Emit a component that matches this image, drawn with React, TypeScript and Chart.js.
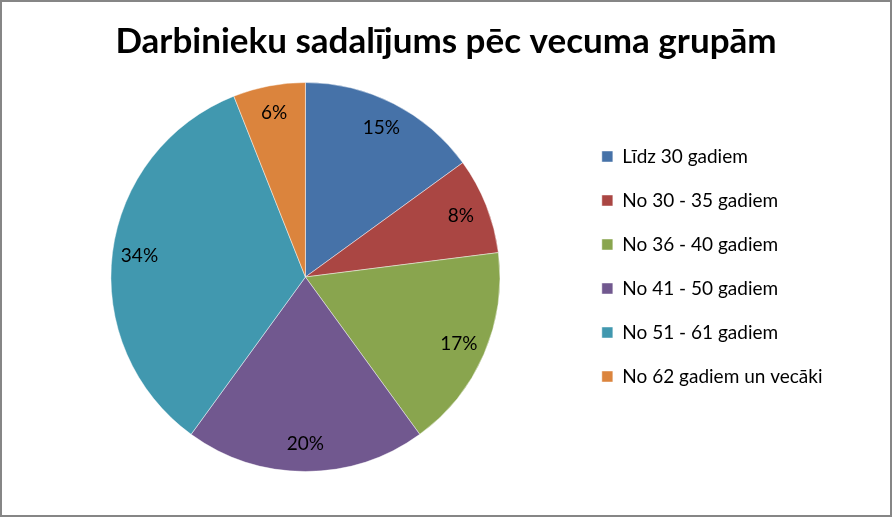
import React, { useRef, useEffect } from 'react';
import { Chart, registerables } from 'chart.js';

Chart.register(...registerables);

const chartTitle = 'Darbinieku sadalījums pēc vecuma grupām';
const ageGroups = [
    'Līdz 30 gadiem',
    'No 30 - 35 gadiem',
    'No 36 - 40 gadiem',
    'No 41 - 50 gadiem',
    'No 51 - 61 gadiem',
    'No 62 gadiem un vecāki',
];
const sharePercent = [15, 8, 17, 20, 34, 6];
const sliceColors = ['#4672A8', '#AA4643', '#89A54E', '#71588F', '#4198AF', '#DB843D'];

const FONT = 'Lato, "Open Sans", sans-serif';

// draws "15%" style labels inside each slice, near the outer edge
const sliceLabels = {
    id: 'sliceLabels',
    afterDatasetsDraw(chart: any) {
        const ctx = chart.ctx;
        const meta = chart.getDatasetMeta(0);
        ctx.save();
        ctx.font = `19px ${FONT}`;
        ctx.fillStyle = '#000';
        ctx.textAlign = 'center';
        ctx.textBaseline = 'middle';
        meta.data.forEach((arc: any, i: number) => {
            const { x, y, startAngle, endAngle, outerRadius } = arc.getProps(
                ['x', 'y', 'startAngle', 'endAngle', 'outerRadius'], true);
            const mid = (startAngle + endAngle) / 2;
            const r = outerRadius * 0.86;
            ctx.fillText(`${sharePercent[i]}%`, x + Math.cos(mid) * r, y + Math.sin(mid) * r);
        });
        ctx.restore();
    },
};

// centre the title over the whole canvas, not just the padded area
const titleFullWidth = {
    id: 'titleFullWidth',
    afterLayout(chart: any) {
        const t = chart.titleBlock;
        if (t) {
            t.left = 0;
            t.right = chart.width;
            t.width = chart.width;
        }
    },
};

const App: React.FC = () => {
    const chartRef = useRef<HTMLCanvasElement>(null);
    const chartInstanceRef = useRef<Chart | null>(null);

    useEffect(() => {
        if (chartRef.current) {
            const ctx = chartRef.current.getContext('2d');
            if (ctx) {
                if (chartInstanceRef.current) {
                    chartInstanceRef.current.destroy();
                }
                chartInstanceRef.current = new Chart(ctx, {
                    type: 'pie',
                    data: {
                        labels: ageGroups,
                        datasets: [{
                            data: sharePercent,
                            backgroundColor: sliceColors,
                            borderColor: 'rgba(255,255,255,0.45)',
                            borderWidth: 1,
                        }],
                    },
                    options: {
                        responsive: false,
                        animation: false,
                        layout: {
                            padding: { left: 32, right: 57.5, top: 0, bottom: 43 },
                        },
                        plugins: {
                            title: {
                                display: true,
                                text: chartTitle,
                                color: '#000',
                                font: { family: FONT, size: 35, weight: 'bold' },
                                padding: { top: 19, bottom: 19 },
                            },
                            legend: {
                                position: 'right',
                                align: 'start',
                                fullSize: false,
                                title: {
                                    display: true,
                                    text: '',
                                    font: { size: 10 },
                                    padding: 14,
                                },
                                labels: {
                                    boxWidth: 11,
                                    boxHeight: 11,
                                    padding: 25,
                                    color: '#000',
                                    font: { family: FONT, size: 19 },
                                },
                            },
                            tooltip: { enabled: false },
                        },
                    },
                    plugins: [sliceLabels, titleFullWidth],
                });
            }
        }

        return () => {
            if (chartInstanceRef.current) {
                chartInstanceRef.current.destroy();
            }
        };
    }, []);

    return (
        <div style={{
            position: 'absolute', left: 0, top: 0,
            width: '892px', height: '517px', boxSizing: 'border-box',
            border: '2px solid #868686', background: '#fff',
        }}>
            <canvas ref={chartRef} width={888} height={513} style={{ display: 'block' }} />
        </div>
    );
};

export default App;
